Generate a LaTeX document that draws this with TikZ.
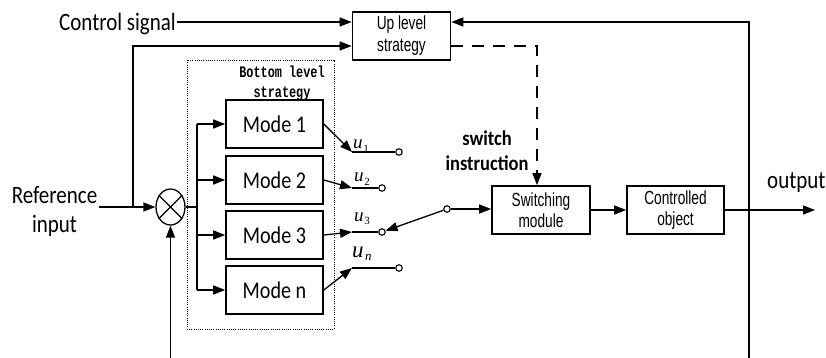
\documentclass[tikz,border=0pt]{standalone}
\usepackage{fontspec}
\usetikzlibrary{arrows.meta,shapes.geometric,calc}
\setmainfont{Carlito}
\newfontfamily\lblfont[FakeStretch=0.84]{Carlito}
\newfontfamily\boldlblfont[FakeStretch=0.88]{Carlito}
\newfontfamily\narrowfont[FakeStretch=0.72]{Liberation Sans}
\newfontfamily\monofont[FakeStretch=0.74]{Liberation Mono}
\newfontfamily\varfont{Liberation Serif}
% u with a lowered index
\newcommand\usig[2]{{\varfont\itshape u}\kern0.6pt\raisebox{-3.5pt}{\varfont\fontsize{11}{11}\selectfont #2}}

\begin{document}
\begin{tikzpicture}[x=1pt,y=-1pt,
  wire/.style={line width=1.3pt},
  arr/.style={wire,-{Triangle[length=12pt,width=9pt]}},
  box/.style={draw,line width=1.7pt,minimum height=48pt,inner sep=0pt,align=center},
  modebox/.style={box,minimum width=97pt,font=\lblfont\fontsize{24}{26}\selectfont},
  narrowbox/.style={box,font=\narrowfont\fontsize{19}{21}\selectfont},
  lbl/.style={inner sep=0pt,align=center,font=\lblfont\fontsize{25}{29}\selectfont},
  term/.style={circle,draw,line width=1.1pt,fill=white,minimum size=6.5pt,inner sep=0pt},
  ulbl/.style={anchor=base west,inner sep=0pt}]
\useasboundingbox (0,0) rectangle (826,358);

% bottom level strategy container
\node[draw,dash pattern=on 1pt off 1.2pt,line width=0.9pt,minimum width=147pt,minimum height=269pt,inner sep=0pt] (bls) at (260.5,194.5) {};
\node[inner sep=0pt,align=center,font=\monofont\bfseries\fontsize{16}{20}\selectfont] (blstxt) at (282,83) {Bottom level\\strategy};

% blocks
\node[narrowbox,minimum width=98pt,font=\narrowfont\fontsize{19}{22}\selectfont] (up) at (401.5,36) {Up level\\strategy};
\node[modebox] (m1) at (274.5,124) {Mode 1};
\node[modebox] (m2) at (274.5,180) {Mode 2};
\node[modebox] (m3) at (274.5,235) {Mode 3};
\node[modebox] (mn) at (274.5,290) {Mode n};
\node[narrowbox,minimum width=98pt] (sw) at (541,210) {Switching\\module};
\node[narrowbox,minimum width=97pt] (obj) at (675.5,210) {Controlled\\object};

% multiplier
\node[draw,ellipse,wire,minimum width=29pt,minimum height=36pt,inner sep=0pt] (mul) at (170.5,207) {};
\draw[wire] (mul.45) -- (mul.225) (mul.135) -- (mul.315);

% text labels
\node[lbl,anchor=base east] (ctltxt) at (176,31) {Control signal};
\node[lbl] (reftxt) at (54.5,211) {Reference\\input};
\node[lbl,anchor=base west] (outtxt) at (767,188) {output};
\node[inner sep=0pt,align=center,font=\boldlblfont\bfseries\fontsize{21}{25}\selectfont] (swtxt) at (487,151) {switch\\instruction};

% switch terminals
\node[term] (t1) at (399,152) {};
\node[term] (t2) at (382,188) {};
\node[term] (t3) at (382,232) {};
\node[term] (tn) at (399,268) {};
\node[term] (ts) at (447,209) {};
\coordinate (p1) at (352,152);
\coordinate (p2) at (352,188);
\coordinate (p3) at (352,232);
\coordinate (pn) at (352,268);

% mode output labels
\node[ulbl,font=\fontsize{19}{19}\selectfont] (u1) at (353,149) {\usig{u}{1}};
\node[ulbl,font=\fontsize{19}{19}\selectfont] (u2) at (354,182) {\usig{u}{2}};
\node[ulbl,font=\fontsize{19}{19}\selectfont] (u3) at (354,221) {\usig{u}{3}};
\node[ulbl,font=\fontsize{23}{23}\selectfont] (un) at (352,257) {{\varfont\itshape u}\kern1.5pt\raisebox{-3.5pt}{\varfont\itshape\fontsize{13}{13}\selectfont n}};

% helper points
\coordinate (ctlend) at (177,22);
\coordinate (refst) at (99,207);
\coordinate (jn) at (133,207);
\coordinate (fbin) at (170.5,358);
\coordinate (bt) at (197,124);
\coordinate (bm) at (197,207);
\coordinate (bb) at (197,290);
\coordinate (upin) at ($(up.west)+(0,10)$);
\coordinate (upout) at ($(up.east)+(0,10)$);
\coordinate (dcorner) at (537,46);
\coordinate (outend) at (815,210);
\coordinate (fbb) at (749,358);

% signals into the upper level
\draw[arr] (ctlend) -- (ctlend -| up.west);
\draw[arr] (jn) |- (upin);
\draw[arr] (fbb) |- (up.east |- ctlend);
\draw[arr,dash pattern=on 12pt off 9pt] (upout) -- (dcorner) -- (dcorner |- sw.north);

% reference path and mode bus
\draw[arr] (refst) -- (mul.west);
\draw[arr] (fbin) -- (mul.south);
\draw[wire] (mul.east) -- (bm);
\draw[wire] (bt) -- (bb);
\draw[arr] (bt) -- (m1.west);
\draw[arr] (m2.west -| bt) -- (m2.west);
\draw[arr] (m3.west -| bt) -- (m3.west);
\draw[arr] (bb) -- (mn.west);

% mode outputs
\draw[arr] (m1.east) -- (p1);
\draw[arr] (m2.east) -- (p2);
\draw[arr] (m3.east) -- (p3);
\draw[arr] (mn.east) -- (pn);
\draw[wire] (p1) -- (t1);
\draw[wire] (p2) -- (t2);
\draw[wire] (p3) -- (t3);
\draw[wire] (pn) -- (tn);

% selector arm and forward path
\draw[arr] (ts) -- (t3);
\draw[arr] (ts) -- (ts -| sw.west);
\draw[arr] (sw) -- (obj);
\draw[arr] (obj) -- (outend);
\end{tikzpicture}
\end{document}
